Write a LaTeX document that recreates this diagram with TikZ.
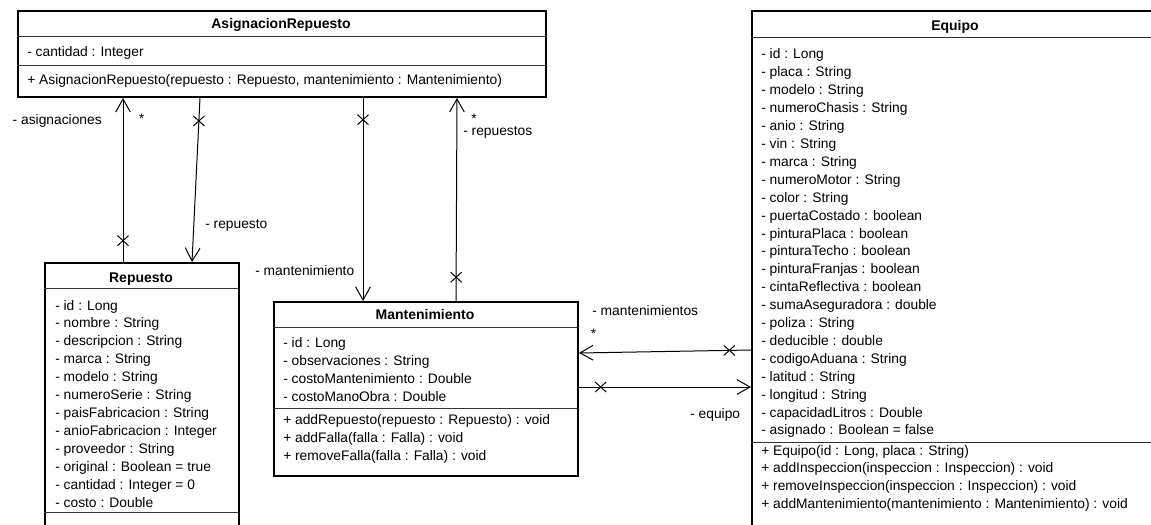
\documentclass[tikz,border=0pt]{standalone}
\usepackage{fontspec}
\setmainfont{Liberation Sans}
\usetikzlibrary{arrows.meta, shapes.misc}

\begin{document}
\begin{tikzpicture}[
        x=0.75pt, y=-0.75pt,
        font=\fontsize{10.35}{12}\selectfont,
        clase/.style 2 args={draw=black, line width=1.5pt, fill=white, anchor=north west, inner sep=0pt, minimum width=#1*0.75pt, minimum height=#2*0.75pt},
        division/.style={draw=black!80, line width=0.75pt},
        titulo/.style={anchor=base, inner sep=0pt, font=\fontsize{10.5}{12}\selectfont\bfseries},
        campo/.style={anchor=base west, inner sep=0pt},
        rol/.style={anchor=base west, inner sep=0pt},
        asoc/.style={draw=black, line width=0.75pt, -{Straight Barb[length=9.75pt, width=11pt]}},
        cruz/.style={cross out, draw=black, line width=0.75pt, inner sep=0pt, minimum width=7.5pt, minimum height=6.75pt}
    ]
        \useasboundingbox (0,0) rectangle (1151,524);
        \clip (0,0) rectangle (1151,524);
        \fill[white] (0,0) rectangle (1151,524);

        % Clases
        \node[clase={528}{86}] (asig) at (17,10) {};
        \node[clase={194}{280}] (rep) at (44,262) {};
        \node[clase={304}{174}] (mant) at (273,301) {};
        \node[clase={408}{525}] (equipo) at (751,10) {};

        % Divisiones
        \draw[division] (17,37) -- (545,37);
        \draw[division] (17,65.5) -- (545,65.5);
        \draw[division] (44,288) -- (238,288);
        \draw[division] (44,512) -- (238,512);
        \draw[division] (273,327) -- (577,327);
        \draw[division] (273,408) -- (577,408);
        \draw[division] (751,38) -- (1159,38);
        \draw[division] (751,442) -- (1159,442);

        % AsignacionRepuesto
        \node[titulo] (asig-t) at (281,28.5) {AsignacionRepuesto};
        \node[campo] (asig-a0) at (27,56.5) {- cantidad : Integer};
        \node[campo] (asig-m0) at (27,85) {+ AsignacionRepuesto(repuesto : Repuesto, mantenimiento : Mantenimiento)};

        % Repuesto
        \node[titulo] (rep-t) at (141,282) {Repuesto};
        \foreach \t [count=\i from 0] in {- id : Long, - nombre : String, - descripcion : String, - marca : String, - modelo : String, - numeroSerie : String, - paisFabricacion : String, - anioFabricacion : Integer, - proveedor : String, - original : Boolean = true, - cantidad : Integer = 0, - costo : Double}
            \node[campo] (rep-a\i) at (55,310+17.95*\i) {\t};

        % Mantenimiento
        \node[titulo] (mant-t) at (425,319.5) {Mantenimiento};
        \foreach \t [count=\i from 0] in {- id : Long, - observaciones : String, - costoMantenimiento : Double, - costoManoObra : Double}
            \node[campo] (mant-a\i) at (283,347+18*\i) {\t};
        \foreach \t [count=\i from 0] in {+ addRepuesto(repuesto : Repuesto) : void, + addFalla(falla : Falla) : void, + removeFalla(falla : Falla) : void}
            \node[campo] (mant-m\i) at (283,424+18*\i) {\t};

        % Equipo
        \node[titulo] (equipo-t) at (955,30.5) {Equipo};
        \foreach \t [count=\i from 0] in {- id : Long, - placa : String, - modelo : String, - numeroChasis : String, - anio : String, - vin : String, - marca : String, - numeroMotor : String, - color : String, - puertaCostado : boolean, - pinturaPlaca : boolean, - pinturaTecho : boolean, - pinturaFranjas : boolean, - cintaReflectiva : boolean, - sumaAseguradora : double, - poliza : String, - deducible : double, - codigoAduana : String, - latitud : String, - longitud : String, - capacidadLitros : Double, - asignado : Boolean = false}
            \node[campo] (equipo-a\i) at (761,59+17.9*\i) {\t};
        \foreach \t [count=\i from 0] in {{+ Equipo(id : Long, placa : String)}, + addInspeccion(inspeccion : Inspeccion) : void, + removeInspeccion(inspeccion : Inspeccion) : void, + addMantenimiento(mantenimiento : Mantenimiento) : void}
            \node[campo] (equipo-m\i) at (761,455+17.8*\i) {\t};

        % Asociaciones
        \draw[asoc] (123,0 |- rep.north) -- node[cruz, pos=.13] (x-asig) {} (123,0 |- asig.south);
        \draw[asoc] (200,0 |- asig.south) -- node[cruz, pos=.14] (x-rep) {} (192,0 |- rep.north);
        \draw[asoc] (363,0 |- asig.south) -- node[cruz, pos=.107] (x-mant) {} (363,0 |- mant.north);
        \draw[asoc] (456,0 |- mant.north) -- node[cruz, pos=.117] (x-reps) {} (457,0 |- asig.south);
        \draw[asoc] (equipo.west |- 0,350) -- node[cruz, pos=.126] (x-mants) {} (mant.east |- 0,353);
        \draw[asoc] (mant.east |- 0,387) -- node[cruz, pos=.126] (x-eq) {} (equipo.west |- 0,387);

        % Roles y multiplicidades
        \node[rol, anchor=base east] (l-asig) at (102,125) {- asignaciones};
        \node[rol] (m-asig) at (138.5,123) {*};
        \node[rol] (l-rep) at (205,228) {- repuesto};
        \node[rol] (l-mant) at (255,275) {- mantenimiento};
        \node[rol] (m-reps) at (471,123) {*};
        \node[rol] (l-reps) at (463,136) {- repuestos};
        \node[rol] (l-mants) at (592,315) {- mantenimientos};
        \node[rol] (m-mants) at (590.5,338) {*};
        \node[rol] (l-eq) at (690,418) {- equipo};
    \end{tikzpicture}
\end{document}
